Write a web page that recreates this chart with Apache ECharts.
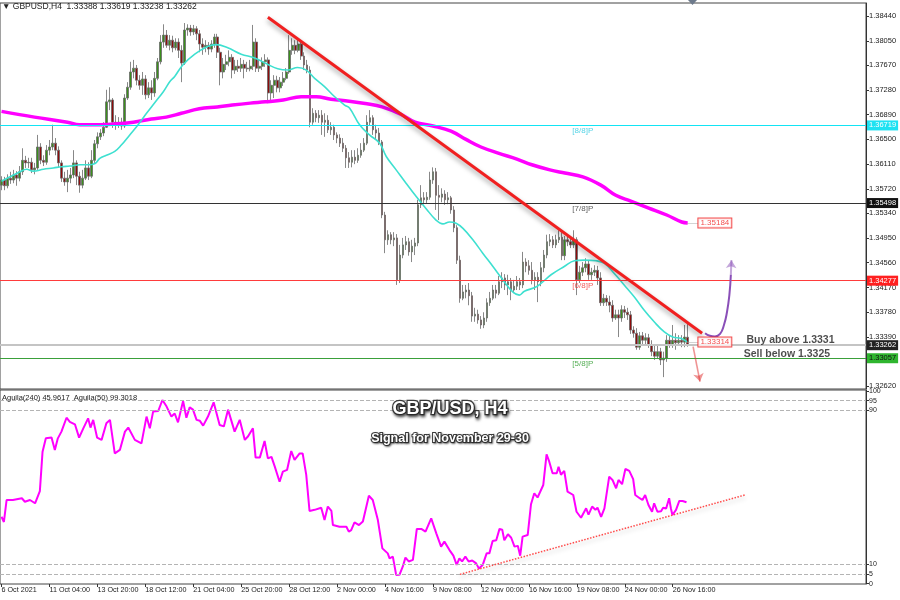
<!DOCTYPE html>
<html><head><meta charset="utf-8">
<script src="https://cdn.jsdelivr.net/npm/echarts@6/dist/echarts.min.js"></script>
<style>html,body{margin:0;padding:0;background:#fff}#c{width:900px;height:600px}</style>
</head><body><div id="c"></div>
<script>
// ---------------- DATA ----------------
const NBARS = 289; // slots on the H4 time axis (bars + right margin)
const timeLabels = ['6 Oct 2021','11 Oct 04:00','13 Oct 20:00','18 Oct 12:00','21 Oct 04:00','25 Oct 20:00','28 Oct 12:00','2 Nov 00:00','4 Nov 16:00','9 Nov 08:00','12 Nov 00:00','16 Nov 16:00','19 Nov 08:00','24 Nov 00:00','26 Nov 16:00'];
const timeLabelBars = [0,16,32,48,64,80,96,112,128,144,160,176,192,208,224];
const priceTicks = [1.38440,1.38050,1.37670,1.37280,1.36890,1.36500,1.36110,1.35720,1.35340,1.34950,1.34560,1.34170,1.33780,1.33390,1.33010,1.32620];
const oscTicks = [0,5,10,90,95,100];
const oscLevels = [5,10,90,95];

const opens = [1.3578,1.3586,1.3577,1.3589,1.3586,1.3594,1.3589,1.3599,1.3617,1.3613,
1.3614,1.3602,1.3605,1.3638,1.3617,1.3614,1.3633,1.3638,1.3644,1.3633,
1.3613,1.3589,1.3583,1.3589,1.3594,1.3613,1.3592,1.3578,1.3589,1.3605,
1.3592,1.3617,1.3643,1.3654,1.3660,1.3669,1.3709,1.3712,1.3677,1.3673,
1.3677,1.3671,1.3715,1.3732,1.3756,1.3762,1.3743,1.3735,1.3745,1.3720,
1.3731,1.3723,1.3746,1.3772,1.3803,1.3814,1.3798,1.3806,1.3794,1.3803,
1.3790,1.3770,1.3822,1.3825,1.3819,1.3824,1.3816,1.3800,1.3795,1.3798,
1.3792,1.3800,1.3811,1.3787,1.3756,1.3768,1.3772,1.3779,1.3759,1.3765,
1.3762,1.3768,1.3762,1.3761,1.3765,1.3803,1.3762,1.3765,1.3772,1.3775,
1.3723,1.3735,1.3743,1.3731,1.3740,1.3746,1.3756,1.3790,1.3798,1.3790,
1.3800,1.3781,1.3767,1.3759,1.3677,1.3691,1.3684,1.3688,1.3677,1.3680,
1.3665,1.3669,1.3657,1.3652,1.3644,1.3636,1.3621,1.3614,1.3622,1.3617,
1.3625,1.3633,1.3644,1.3677,1.3684,1.3665,1.3660,1.3646,1.3531,1.3492,
1.3500,1.3492,1.3495,1.3429,1.3468,1.3484,1.3489,1.3473,1.3482,1.3487,
1.3547,1.3558,1.3555,1.3559,1.3586,1.3599,1.3562,1.3559,1.3564,1.3555,
1.3558,1.3539,1.3511,1.3460,1.3400,1.3410,1.3413,1.3404,1.3372,1.3375,
1.3366,1.3358,1.3369,1.3393,1.3400,1.3413,1.3408,1.3426,1.3432,1.3421,
1.3426,1.3413,1.3419,1.3426,1.3421,1.3457,1.3451,1.3444,1.3429,1.3433,
1.3426,1.3448,1.3468,1.3489,1.3492,1.3484,1.3492,1.3496,1.3467,1.3492,
1.3489,1.3484,1.3492,1.3429,1.3441,1.3448,1.3454,1.3437,1.3441,1.3444,
1.3432,1.3393,1.3400,1.3394,1.3389,1.3369,1.3374,1.3369,1.3382,1.3378,
1.3374,1.3350,1.3345,1.3323,1.3341,1.3334,1.3338,1.3326,1.3316,1.3309,
1.3316,1.3303,1.3306,1.3334,1.3326,1.3334,1.3330,1.3334,1.3331,1.33388];
const closes = [1.3586,1.3577,1.3589,1.3586,1.3594,1.3589,1.3599,1.3617,1.3613,1.3614,
1.3602,1.3605,1.3638,1.3617,1.3614,1.3633,1.3638,1.3644,1.3633,1.3613,
1.3589,1.3583,1.3589,1.3594,1.3613,1.3592,1.3578,1.3589,1.3605,1.3592,
1.3617,1.3643,1.3654,1.3660,1.3669,1.3709,1.3712,1.3677,1.3673,1.3677,
1.3671,1.3715,1.3732,1.3756,1.3762,1.3743,1.3735,1.3745,1.3720,1.3731,
1.3723,1.3746,1.3772,1.3803,1.3814,1.3798,1.3806,1.3794,1.3803,1.3790,
1.3770,1.3822,1.3825,1.3819,1.3824,1.3816,1.3800,1.3795,1.3798,1.3792,
1.3800,1.3811,1.3787,1.3756,1.3768,1.3772,1.3779,1.3759,1.3765,1.3762,
1.3768,1.3762,1.3761,1.3765,1.3803,1.3762,1.3765,1.3772,1.3775,1.3723,
1.3735,1.3743,1.3731,1.3740,1.3746,1.3756,1.3790,1.3798,1.3790,1.3800,
1.3781,1.3767,1.3759,1.3677,1.3691,1.3684,1.3688,1.3677,1.3680,1.3665,
1.3669,1.3657,1.3652,1.3644,1.3636,1.3621,1.3614,1.3622,1.3617,1.3625,
1.3633,1.3644,1.3677,1.3684,1.3665,1.3660,1.3646,1.3531,1.3492,1.3500,
1.3492,1.3495,1.3429,1.3468,1.3484,1.3489,1.3473,1.3482,1.3487,1.3547,
1.3558,1.3555,1.3559,1.3586,1.3599,1.3562,1.3559,1.3564,1.3555,1.3558,
1.3539,1.3511,1.3460,1.3400,1.3410,1.3413,1.3404,1.3372,1.3375,1.3366,
1.3358,1.3369,1.3393,1.3400,1.3413,1.3408,1.3426,1.3432,1.3421,1.3426,
1.3413,1.3419,1.3426,1.3421,1.3457,1.3451,1.3444,1.3429,1.3433,1.3426,
1.3448,1.3468,1.3489,1.3492,1.3484,1.3492,1.3496,1.3467,1.3492,1.3489,
1.3484,1.3492,1.3429,1.3441,1.3448,1.3454,1.3437,1.3441,1.3444,1.3432,
1.3393,1.3400,1.3394,1.3389,1.3369,1.3374,1.3369,1.3382,1.3378,1.3374,
1.3350,1.3345,1.3323,1.3341,1.3334,1.3338,1.3326,1.3316,1.3309,1.3316,
1.3303,1.3306,1.3334,1.3326,1.3334,1.3330,1.3334,1.3331,1.3339,1.33262];
const highs = [1.3592,1.3591,1.3595,1.3599,1.3602,1.3600,1.3608,1.3636,1.3624,1.3621,
1.3621,1.3613,1.3657,1.3644,1.3625,1.3641,1.3649,1.3673,1.3652,1.3639,
1.3617,1.3599,1.3602,1.3605,1.3633,1.3617,1.3599,1.3602,1.3617,1.3614,
1.3633,1.3649,1.3661,1.3666,1.3677,1.3728,1.3732,1.3715,1.3688,1.3685,
1.3684,1.3721,1.3740,1.3772,1.3775,1.3767,1.3751,1.3756,1.3751,1.3740,
1.3743,1.3756,1.3778,1.3814,1.3831,1.3822,1.3814,1.3813,1.3809,1.3809,
1.3798,1.3833,1.3831,1.3830,1.3830,1.3828,1.3822,1.3809,1.3806,1.3803,
1.3806,1.3816,1.3816,1.3794,1.3778,1.3783,1.3790,1.3784,1.3775,1.3775,
1.3778,1.3775,1.3772,1.3775,1.3830,1.3809,1.3775,1.3779,1.3784,1.3779,
1.3743,1.3751,1.3750,1.3748,1.3756,1.3762,1.3814,1.3809,1.3806,1.3809,
1.3806,1.3787,1.3775,1.3765,1.3699,1.3696,1.3696,1.3696,1.3691,1.3688,
1.3677,1.3673,1.3661,1.3658,1.3652,1.3641,1.3630,1.3633,1.3633,1.3636,
1.3644,1.3652,1.3688,1.3696,1.3688,1.3673,1.3668,1.3649,1.3536,1.3507,
1.3504,1.3504,1.3501,1.3484,1.3495,1.3498,1.3495,1.3492,1.3495,1.3555,
1.3578,1.3567,1.3567,1.3599,1.3606,1.3605,1.3578,1.3573,1.3570,1.3567,
1.3561,1.3545,1.3515,1.3467,1.3421,1.3421,1.3424,1.3410,1.3385,1.3382,
1.3372,1.3378,1.3400,1.3410,1.3421,1.3421,1.3435,1.3441,1.3438,1.3437,
1.3432,1.3429,1.3435,1.3432,1.3473,1.3463,1.3460,1.3457,1.3441,1.3441,
1.3457,1.3476,1.3500,1.3501,1.3498,1.3500,1.3507,1.3504,1.3498,1.3498,
1.3495,1.3507,1.3496,1.3451,1.3457,1.3463,1.3460,1.3448,1.3452,1.3451,
1.3441,1.3407,1.3405,1.3404,1.3397,1.3382,1.3382,1.3389,1.3388,1.3385,
1.3380,1.3356,1.3353,1.3347,1.3347,1.3345,1.3344,1.3334,1.3325,1.3326,
1.3322,1.3316,1.3342,1.3341,1.3358,1.3345,1.3342,1.3342,1.3358,1.33619];
const lows = [1.3570,1.3570,1.3573,1.3580,1.3581,1.3577,1.3584,1.3594,1.3605,1.3605,
1.3597,1.3595,1.3602,1.3611,1.3608,1.3610,1.3625,1.3633,1.3625,1.3605,
1.3583,1.3577,1.3567,1.3581,1.3589,1.3578,1.3566,1.3573,1.3586,1.3586,
1.3589,1.3613,1.3636,1.3649,1.3655,1.3668,1.3696,1.3668,1.3665,1.3668,
1.3665,1.3668,1.3712,1.3728,1.3746,1.3735,1.3728,1.3720,1.3713,1.3715,
1.3712,1.3717,1.3743,1.3768,1.3794,1.3794,1.3790,1.3787,1.3790,1.3778,
1.3740,1.3767,1.3813,1.3813,1.3814,1.3806,1.3787,1.3783,1.3787,1.3783,
1.3787,1.3794,1.3778,1.3735,1.3746,1.3759,1.3765,1.3746,1.3753,1.3756,
1.3756,1.3746,1.3756,1.3757,1.3759,1.3756,1.3756,1.3759,1.3764,1.3707,
1.3712,1.3715,1.3724,1.3724,1.3734,1.3743,1.3753,1.3783,1.3784,1.3787,
1.3775,1.3759,1.3754,1.3669,1.3673,1.3677,1.3676,1.3657,1.3654,1.3660,
1.3657,1.3649,1.3644,1.3638,1.3630,1.3605,1.3605,1.3606,1.3611,1.3613,
1.3621,1.3630,1.3641,1.3671,1.3657,1.3649,1.3641,1.3526,1.3471,1.3484,
1.3485,1.3482,1.3421,1.3424,1.3463,1.3476,1.3467,1.3457,1.3468,1.3482,
1.3542,1.3548,1.3550,1.3555,1.3580,1.3539,1.3523,1.3551,1.3547,1.3548,
1.3533,1.3504,1.3454,1.3393,1.3397,1.3400,1.3389,1.3363,1.3363,1.3360,
1.3352,1.3353,1.3363,1.3388,1.3397,1.3400,1.3405,1.3416,1.3413,1.3405,
1.3397,1.3408,1.3413,1.3413,1.3416,1.3441,1.3437,1.3422,1.3413,1.3394,
1.3419,1.3441,1.3463,1.3482,1.3479,1.3479,1.3487,1.3460,1.3460,1.3482,
1.3479,1.3479,1.3405,1.3424,1.3435,1.3441,1.3429,1.3429,1.3435,1.3421,
1.3388,1.3388,1.3388,1.3378,1.3363,1.3366,1.3339,1.3363,1.3369,1.3366,
1.3344,1.3338,1.3319,1.3319,1.3325,1.3328,1.3322,1.3309,1.3303,1.3306,
1.3295,1.3276,1.3300,1.3322,1.3322,1.3319,1.3325,1.3323,1.3323,1.33238];

// slow (magenta) moving average, sampled at bar positions
const maSlowIdx = [0,11,22,26,33,38,44,50,55,60,66,72,77,83,88,94,100,105,110,116,122,127,133,138,144,150,155,160,166,172,177,183,188,194,200,205,210,216,222,227,229];
const maSlowVals = [1.3694,1.3685,1.3677,1.3673,1.3673,1.3674,1.3677,1.3682,1.3685,1.3691,1.3698,1.3701,1.3704,1.3707,1.3709,1.3712,1.3717,1.3717,1.3713,1.3710,1.3706,1.3701,1.3690,1.3677,1.3671,1.3663,1.3650,1.3638,1.3628,1.3619,1.3610,1.3602,1.3597,1.3591,1.3578,1.3562,1.3553,1.3542,1.3531,1.3520,1.35184];
// fast (turquoise) moving average
const maFastIdx = [0,6.2,8.4,10.6,14,17.3,20,22.8,26.2,29,31.2,32.8,35,37.8,40,42.8,45.6,48.4,51.2,54,56.2,57.8,60.5,64.5,68.8,71.7,75.5,80,84.5,88.8,92.2,95.5,98.8,101.7,104.5,107.8,111.2,114.5,116.2,119.5,122.8,126.2,128.4,131.7,135,138.4,141.7,145,147.3,149.5,151.7,154,157.3,160.6,164,167.3,170.6,172.8,174.5,178.8,183.4,187.8,191.2,194.5,198.4,201.2,204.5,207.8,211.2,214.5,217.8,221.2,224,226.7,228.8];
const maFastVals = [1.3584,1.3599,1.3603,1.3600,1.3603,1.3605,1.3607,1.3608,1.3610,1.3610,1.3612,1.3620,1.3625,1.3631,1.3641,1.3657,1.3673,1.3691,1.3708,1.3725,1.3741,1.3749,1.3767,1.3784,1.3796,1.3799,1.3794,1.3784,1.3778,1.3768,1.3761,1.3759,1.3763,1.3759,1.3746,1.3733,1.3717,1.3704,1.3699,1.3673,1.3657,1.3644,1.3623,1.3602,1.3581,1.3560,1.3541,1.3523,1.3517,1.3520,1.3518,1.3510,1.3492,1.3471,1.3450,1.3429,1.3410,1.3405,1.3411,1.3419,1.3437,1.3450,1.3459,1.3460,1.3459,1.3455,1.3439,1.3421,1.3402,1.3381,1.3363,1.3347,1.3339,1.3337,1.33314];

// horizontal levels
const levelPrices = [1.36719,1.35498,1.34277,1.33262,1.33057];
const fibLabels = ['[8/8]P','[7/8]P','[6/8]P','[5/8]P'];
const fibPrices = [1.36719,1.35498,1.34277,1.33057];
const fibLabelBar = 190.5;
const boxPrices = [1.35184,1.33314];
const boxBar = 232.4;
const boxLinkFrom = 228.6;
const signalTexts = ['Buy above 1.3331','Sell below 1.3325'];
const signalBars = [263.3,262.1];
const signalPrices = [1.3334,1.3312];

// drawn trend lines / arrows (bar index, price)
const trendLine = [[88.9,1.3842],[233.8,1.3345]];
const upArrowPath = [[234.8,1.3345],[236.4,1.3341],[238.1,1.3340],[239.8,1.3344],[241.1,1.3358],[242.1,1.3378],[242.9,1.3405],[243.4,1.3437]];
const upArrowHead = [[243.4,1.3437],[243.6,1.3460]];
const downArrow = [[230.8,1.3324],[233.1,1.3269]];

// oscillator (Aguila) panel
const aguilaIdx = [0,0.8,1.7,3.8,6.8,7.8,9.5,11.2,12.8,13.7,14.8,16.7,17.8,18.8,20,21.7,22.8,24.5,25.9,27.3,28.9,29.7,30.6,31.9,33.4,35,36.2,37.8,39.5,41.2,42.3,44.5,46.7,48.4,49.5,50.6,52.3,53.7,55.1,56.7,57.8,58.9,60.6,61.7,62.8,63.9,65.1,66.2,67.3,68.9,70.8,72.8,74.2,75.6,77.8,79.5,81.2,82.3,83.9,84.8,86.2,87.8,88.9,90.1,91.2,92.8,93.9,95.3,96.7,97.8,99.5,100.5,101.7,102.8,104.5,106.7,107.8,108.9,110.1,110.6,112.8,115.1,115.9,116.7,117.8,119.3,120.6,122.6,123.9,125.6,127.1,128.9,129.5,130.6,131.7,132.8,133.9,134.8,135.9,137.3,138.6,140.1,141.5,143.4,145.1,146.7,147.8,149.5,150.8,151.9,152.8,153.7,154.8,155.9,157.1,158.4,159.3,160.6,161.9,162.8,163.9,165.1,166.2,167.1,167.8,169,170.1,171.2,172.3,173.1,173.9,175.6,176.7,177.8,178.9,180.8,181.9,182.8,183.9,185.3,185.9,186.7,187.8,188.9,190.8,191.9,193.4,193.9,195.1,195.9,197.1,198.2,198.9,200.1,201.2,202.8,203.9,205.1,205.9,207.1,208.2,209.5,210.8,211.5,213.1,213.9,214.8,215.9,217.1,217.8,218.9,220.1,220.8,221.8,222.8,223.4,223.9,225.1,226.2,227.3,228.6];
const aguilaVals = [34.7,32,43.4,43.4,44.3,42.5,43.4,41.7,48,68.5,75.4,75.8,69.4,75.4,78.9,86.1,84,82.7,75.8,80.6,85.8,81,85,75.8,74.6,83.2,85,67.6,69.4,78.9,81,74.6,72.8,86.7,80.6,89.3,89.6,95.3,91.9,86.7,88.3,83.7,94.8,86.1,91.5,90.3,85,84.5,82,86.7,94.1,82.3,81.6,90.3,78.9,85,74.6,76.5,80.6,65.4,65.4,74,65,65.8,60.7,52.9,58.1,59,68.8,64.2,67.6,67.6,56.4,37.7,38.3,39.4,33,40,37.7,30.4,29.5,29.5,27,27.8,31.8,30.4,32.2,45.6,43.4,33,18.3,15.7,13.1,14,4.5,4.6,8.8,13.5,11.5,12.3,28.4,28.4,27,33.9,26.1,19.2,21.8,17.4,14.5,9.7,13.1,11.5,14,11.5,12,10.5,7.9,9.7,15.7,15.7,22.1,22.5,28.4,28,22.5,25.6,23.8,19.2,19.6,14.5,24.4,25.2,41.2,46.9,44.7,51.2,67.1,63.3,57.3,57.3,60.7,56.5,58.5,47.7,46,37.3,34.2,34.2,39.1,35.8,40,38.3,39.4,34.7,39.1,55.5,53.8,49.5,53.8,51.6,59.5,58.5,54.2,46,44.2,43.4,46,40.8,37.3,41.7,37.3,37.6,39.4,39,44.3,39,35.6,38.3,42.9,42.9,42.2];
const oscTrend = [[153.0,4.8],[248.1,46]];

// ---------------- CHART ----------------
const FONT = 'Liberation Sans';
const zip = (a, b) => a.map((v, i) => [v, b[i]]);
const categories = Array.from({length: NBARS}, (_, i) => i);
const candleData = opens.map((o, i) => [o, closes[i], lows[i], highs[i]]);
const levelStyles = [
  {color:'#12e4f4', width:1, bg:'#1ee2f2', fg:'#ffffff'},
  {color:'#333333', width:1, bg:'#111111', fg:'#ffffff'},
  {color:'#ff3b3b', width:1, bg:'#ff2020', fg:'#ffffff'},
  {color:'#c4c4c4', width:2, bg:'#222222', fg:'#ffffff'},
  {color:'#3aa03a', width:1, bg:'#2fb52f', fg:'#111111'}
];
const fibColors = ['#2cc8e0','#333333','#f03333','#2a9a2a'];
const rich = {};
levelStyles.forEach((s, k) => { rich['s' + k] = {backgroundColor: s.bg, color: s.fg, padding: [1, 2, 1, 2], fontSize: 7.5, fontFamily: FONT}; });

const chart = echarts.init(document.getElementById('c'), null, {renderer: 'canvas'});
const option = {
  animation: false,
  backgroundColor: '#ffffff',
  textStyle: {fontFamily: FONT},
  title: [
    {text: '\u25BC GBPUSD,H4  1.33388 1.33619 1.33238 1.33262', left: 2, top: 2, padding: 0,
     textStyle: {fontSize: 8.5, fontWeight: 'normal', color: '#222', fontFamily: FONT}},
    {text: 'Aguila(240) 45.9617  Aguila(50) 99.3018', left: 2, top: 394, padding: 0,
     textStyle: {fontSize: 7.5, fontWeight: 'normal', color: '#222', fontFamily: FONT}},
    {text: 'GBP/USD, H4', left: 'center', top: 400, padding: 0,
     textStyle: {fontSize: 18, fontWeight: 'bold', color: '#ffffff', fontFamily: FONT,
       textBorderColor: '#3a3a3a', textBorderWidth: 2.5,
       textShadowColor: 'rgba(0,0,0,0.55)', textShadowBlur: 3, textShadowOffsetX: 1, textShadowOffsetY: 2}},
    {text: 'Signal for November 29-30', left: 'center', top: 432, padding: 0,
     textStyle: {fontSize: 12.5, fontWeight: 'bold', color: '#ffffff', fontFamily: FONT,
       textBorderColor: '#3a3a3a', textBorderWidth: 2,
       textShadowColor: 'rgba(0,0,0,0.5)', textShadowBlur: 2, textShadowOffsetX: 1, textShadowOffsetY: 1.5}}
  ],
  graphic: [{type: 'polygon', shape: {points: [[688, 0], [697, 0], [692.5, 5]]}, style: {fill: '#6d7a8c'}, z: 100}],
  grid: [
    {left: 0, right: 34, top: 3, height: 386, show: true, borderColor: '#444', borderWidth: 1, outerBoundsMode: 'none'},
    {left: 0, right: 34, top: 390, height: 194, show: true, borderColor: '#444', borderWidth: 1, outerBoundsMode: 'none'}
  ],
  xAxis: [
    {type: 'category', gridIndex: 0, data: categories, boundaryGap: true, show: false},
    {type: 'value', gridIndex: 0, min: -0.5, max: NBARS - 0.5, show: false},
    {type: 'value', gridIndex: 1, min: -0.5, max: NBARS - 0.5,
     axisLine: {show: false, onZero: false}, splitLine: {show: false},
     axisTick: {show: true, customValues: timeLabelBars, length: 3, lineStyle: {color: '#333'}},
     axisLabel: {customValues: timeLabelBars, formatter: v => timeLabels[timeLabelBars.indexOf(v)],
       align: 'left', fontSize: 7.2, color: '#222', margin: 3, fontFamily: FONT}}
  ],
  yAxis: [
    {type: 'value', gridIndex: 0, position: 'right', min: 1.32573, max: 1.38645, scale: true,
     splitLine: {show: false}, axisLine: {show: true, onZero: false, lineStyle: {color: '#333'}},
     axisTick: {show: true, customValues: priceTicks, length: 3, lineStyle: {color: '#333'}},
     axisLabel: {customValues: priceTicks, formatter: v => v.toFixed(5), fontSize: 7.5, color: '#222', margin: 3, fontFamily: FONT}},
    {type: 'value', gridIndex: 0, position: 'right', min: 1.32573, max: 1.38645, scale: true, z: 20,
     splitLine: {show: false}, axisLine: {show: false, onZero: false}, axisTick: {show: false},
     axisLabel: {customValues: levelPrices, margin: 1, rich: rich,
       formatter: v => { const k = levelPrices.findIndex(p => Math.abs(p - v) < 1e-7); return '{s' + k + '|' + v.toFixed(5) + '}'; }}},
    {type: 'value', gridIndex: 1, position: 'right', min: -0.2, max: 100.5,
     splitLine: {show: false}, axisLine: {show: true, onZero: false, lineStyle: {color: '#333'}},
     axisTick: {show: true, customValues: oscTicks, length: 3, lineStyle: {color: '#333'}},
     axisLabel: {customValues: oscTicks, fontSize: 7, color: '#222', margin: 3, fontFamily: FONT}}
  ],
  series: [
    {type: 'line', xAxisIndex: 1, yAxisIndex: 0, data: [], silent: true, z: 1,
     markLine: {silent: true, symbol: 'none', precision: 5, label: {show: false},
       data: levelPrices.map((p, k) => ({yAxis: p, lineStyle: {color: levelStyles[k].color, width: levelStyles[k].width, type: 'solid'}}))}},
    {type: 'candlestick', xAxisIndex: 0, yAxisIndex: 0, data: candleData, barWidth: 2.2, z: 3,
     itemStyle: {color: '#3b8f1c', color0: '#8d0c0c', borderColor: '#6a6a6a', borderColor0: '#6a6a6a', borderWidth: 0.8}},
    {type: 'line', xAxisIndex: 1, yAxisIndex: 0, data: zip(maSlowIdx, maSlowVals), smooth: 0.4, symbol: 'none', z: 4,
     lineStyle: {color: '#ff00ff', width: 3.5}},
    {type: 'line', xAxisIndex: 1, yAxisIndex: 0, data: zip(maFastIdx, maFastVals), smooth: 0.4, symbol: 'none', z: 4,
     lineStyle: {color: '#3ee0d0', width: 1.6}},
    {type: 'line', xAxisIndex: 1, yAxisIndex: 0, data: trendLine, symbol: 'none', z: 6,
     lineStyle: {color: '#f02020', width: 3, shadowColor: 'rgba(0,0,0,0.35)', shadowBlur: 5, shadowOffsetY: 3}},
    {type: 'line', xAxisIndex: 1, yAxisIndex: 0, data: upArrowPath, symbol: 'none', smooth: 0.5, z: 6,
     lineStyle: {color: '#8a4fb8', width: 2}},
    {type: 'lines', coordinateSystem: 'cartesian2d', xAxisIndex: 1, yAxisIndex: 0, z: 6,
     symbol: ['none', 'arrow'], symbolSize: 8,
     data: [{coords: upArrowHead, lineStyle: {color: '#8a4fb8', width: 2}},
            {coords: downArrow, lineStyle: {color: '#e02a2a', width: 1.6}}]},
    {type: 'lines', coordinateSystem: 'cartesian2d', xAxisIndex: 1, yAxisIndex: 0, z: 6, symbol: 'none',
     lineStyle: {color: '#a8a8a8', width: 1},
     data: boxPrices.map(p => ({coords: [[boxLinkFrom, p], [boxBar, p]]}))},
    {type: 'scatter', xAxisIndex: 1, yAxisIndex: 0, symbolSize: 1, z: 8, silent: true,
     itemStyle: {color: 'rgba(0,0,0,0)'},
     data: [].concat(
       fibPrices.map((p, k) => ({value: [fibLabelBar, p],
         label: {show: true, formatter: fibLabels[k], position: 'bottom', align: 'left', distance: 1,
           color: fibColors[k], fontSize: 8, fontFamily: FONT}})),
       boxPrices.map(p => ({value: [boxBar, p],
         label: {show: true, formatter: p.toFixed(5), position: 'right', distance: 0,
           color: '#f02020', fontSize: 8, fontFamily: FONT, backgroundColor: '#ffffff',
           borderColor: '#f02020', borderWidth: 1, padding: [1, 2, 0, 2]}})),
       signalTexts.map((t, k) => ({value: [signalBars[k], signalPrices[k]],
         label: {show: true, formatter: t, position: 'inside', color: '#1e1e1e',
           fontSize: 10.5, fontWeight: 'bold', fontFamily: FONT}}))
     )},
    {type: 'line', xAxisIndex: 2, yAxisIndex: 2, data: zip(aguilaIdx, aguilaVals), symbol: 'none', z: 4,
     lineStyle: {color: '#ff00ff', width: 2},
     markLine: {silent: true, symbol: 'none', label: {show: false},
       lineStyle: {color: '#b4b4b4', type: 'dashed', width: 1},
       data: oscLevels.map(v => ({yAxis: v}))}},
    {type: 'line', xAxisIndex: 2, yAxisIndex: 2, data: oscTrend, symbol: 'none', z: 5,
     lineStyle: {color: '#ff4a4a', width: 1.5, type: 'dotted', shadowColor: 'rgba(0,0,0,0.25)', shadowBlur: 4, shadowOffsetY: 3}}
  ]
};
chart.setOption(option);
</script>
</body></html>
